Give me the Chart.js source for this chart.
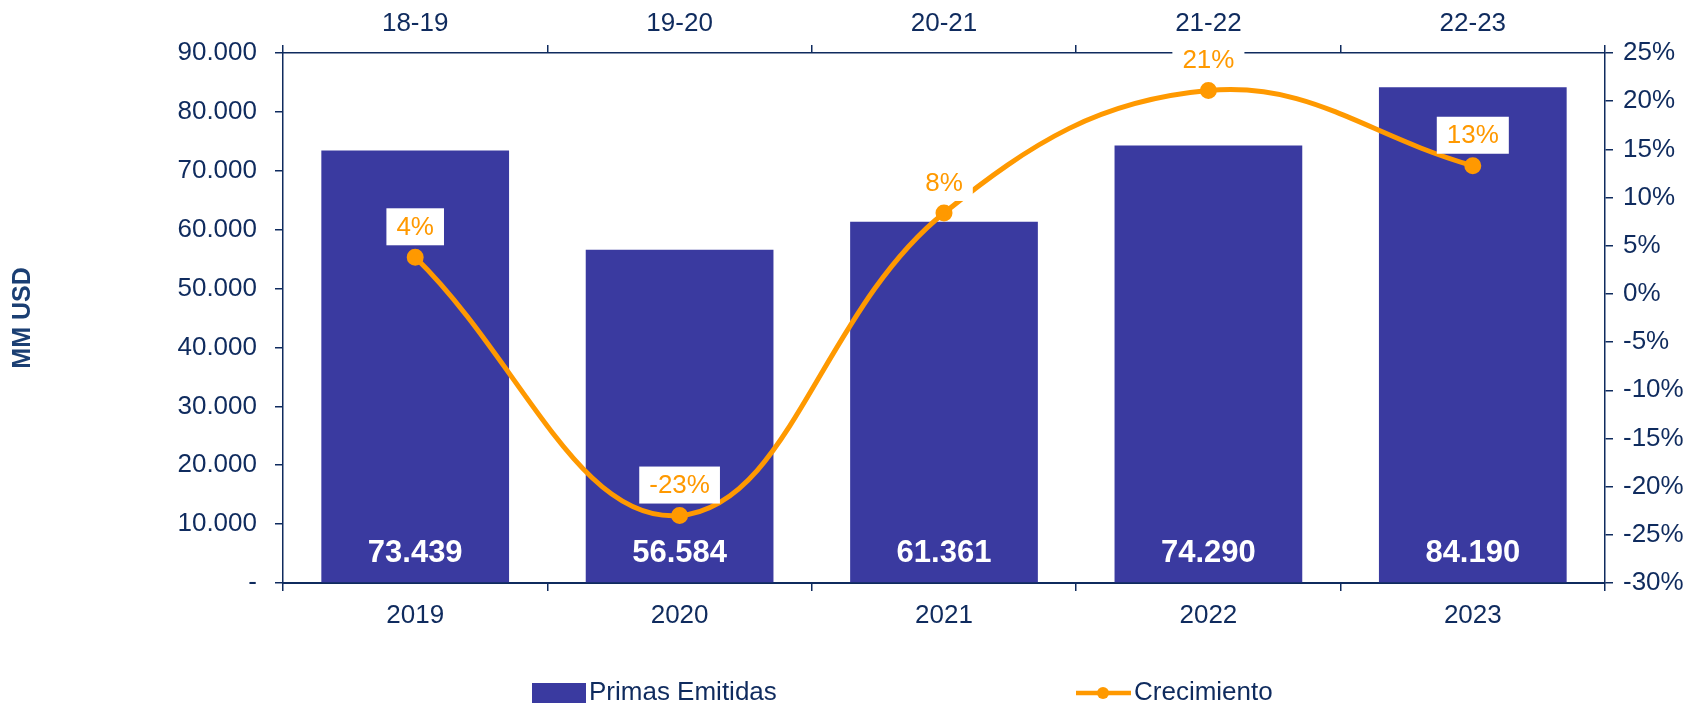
<!DOCTYPE html>
<html>
<head>
<meta charset="utf-8">
<script src="https://cdn.jsdelivr.net/npm/chart.js@4"></script>
<style>
  html, body { margin:0; padding:0; background:#fff; }
  #wrap { width:1708px; height:707px; position:relative; }
</style>
</head>
<body>
<div id="wrap"><canvas id="c"></canvas></div>
<script>
// datos
const years = ["2019","2020","2021","2022","2023"];
const periods = ["18-19","19-20","20-21","21-22","22-23"];
const primas = [73439, 56584, 61361, 74290, 84190];
const crecimiento = [3.8, -23.0, 8.4, 21.1, 13.3];

const NAVY = "#0f2b5e";
const BAR = "#3a3aa0";
const ORANGE = "#ff9900";
const FONT = "'Liberation Sans', Arial, sans-serif";

Chart.defaults.font.family = FONT;
Chart.defaults.color = NAVY;

const miles = (v) => String(v).replace(/\B(?=(\d{3})+(?!\d))/g, ".");

// etiquetas de valores + leyenda propia
const labelsPlugin = {
  id: "labelsPlugin",
  afterDatasetsDraw(chart){
    const ctx = chart.ctx;
    const y0 = chart.scales.y.getPixelForValue(0);
    ctx.save();
    // barras: valor blanco abajo
    ctx.font = "bold 31px " + FONT;
    ctx.fillStyle = "#fff";
    ctx.textAlign = "center";
    ctx.textBaseline = "middle";
    chart.getDatasetMeta(1).data.forEach((el, i) => {
      ctx.fillText(miles(primas[i]), el.x, y0 - 30);
    });
    // linea: % con caja blanca
    ctx.font = "26px " + FONT;
    chart.getDatasetMeta(0).data.forEach((el, i) => {
      const txt = Math.round(crecimiento[i]) + "%";
      const w = ctx.measureText(txt).width + 20;
      const h = 37;
      const bottom = el.y - 12;
      ctx.fillStyle = "#fff";
      ctx.fillRect(el.x - w/2, bottom - h, w, h);
      ctx.fillStyle = ORANGE;
      ctx.fillText(txt, el.x, bottom - h/2 + 1);
    });
    ctx.restore();
  },
  afterDraw(chart){
    const ctx = chart.ctx;
    const ly = 693;
    ctx.save();
    ctx.font = "26px " + FONT;
    ctx.textBaseline = "middle";
    ctx.textAlign = "left";
    // Primas Emitidas
    ctx.fillStyle = BAR;
    ctx.fillRect(532, ly - 10, 54, 20);
    ctx.fillStyle = NAVY;
    ctx.fillText(chart.data.datasets[1].label, 589, ly);
    // Crecimiento
    ctx.strokeStyle = ORANGE;
    ctx.lineWidth = 4.5;
    ctx.beginPath(); ctx.moveTo(1076, ly); ctx.lineTo(1131, ly); ctx.stroke();
    ctx.fillStyle = ORANGE;
    ctx.beginPath(); ctx.arc(1103, ly, 6, 0, Math.PI*2); ctx.fill();
    ctx.fillStyle = NAVY;
    ctx.fillText(chart.data.datasets[0].label, 1134, ly);
    ctx.restore();
  }
};

const tickFont = { size: 26 };

new Chart(document.getElementById("c"), {
  data: {
    labels: years,
    datasets: [
      {
        type: "line",
        label: "Crecimiento",
        data: crecimiento,
        yAxisID: "y1",
        borderColor: ORANGE,
        backgroundColor: ORANGE,
        borderWidth: 5,
        pointRadius: 6,
        pointHoverRadius: 6,
        tension: 0.4,
        order: 0
      },
      {
        type: "bar",
        label: "Primas Emitidas",
        data: primas,
        yAxisID: "y",
        backgroundColor: BAR,
        barPercentage: 0.71,
        categoryPercentage: 1,
        order: 1
      }
    ]
  },
  options: {
    responsive: true,
    maintainAspectRatio: false,
    animation: false,
    layout: { padding: 0 },
    plugins: { legend: { display: false }, tooltip: { enabled: false } },
    scales: {
      x: {
        position: "bottom",
        offset: true,
        grid: { offset: true, drawOnChartArea: false, color: NAVY, tickLength: 8, lineWidth: 1.5 },
        border: { color: NAVY, width: 2 },
        ticks: { font: tickFont, color: NAVY, padding: 9 },
        afterFit: (s) => { s.height = 124; }
      },
      x2: {
        type: "category",
        labels: periods,
        position: "top",
        offset: true,
        grid: { offset: true, drawOnChartArea: false, color: NAVY, tickLength: 8, lineWidth: 1.5 },
        border: { color: NAVY, width: 1.5 },
        ticks: { font: tickFont, color: NAVY, padding: 6 },
        afterFit: (s) => { s.height = 53; }
      },
      y: {
        position: "left",
        min: 0, max: 90000,
        ticks: {
          stepSize: 10000, font: tickFont, color: NAVY, padding: 18,
          callback: (v) => v === 0 ? "-" : miles(v)
        },
        grid: { drawOnChartArea: false, color: NAVY, tickLength: 8, lineWidth: 1.5 },
        border: { color: NAVY, width: 1.5 },
        title: {
          display: true, text: "MM USD", color: "#1b3f73",
          font: { size: 25, weight: "bold" }, padding: { top: 8, bottom: 0 }
        },
        afterFit: (s) => { s.width = 283; }
      },
      y1: {
        position: "right",
        min: -30, max: 25,
        ticks: {
          stepSize: 5, font: tickFont, color: NAVY, padding: 10,
          callback: (v) => v + "%"
        },
        grid: { drawOnChartArea: false, color: NAVY, tickLength: 8, lineWidth: 1.5 },
        border: { color: NAVY, width: 1.5 },
        afterFit: (s) => { s.width = 103; }
      }
    }
  },
  plugins: [labelsPlugin]
});
</script>
</body>
</html>
